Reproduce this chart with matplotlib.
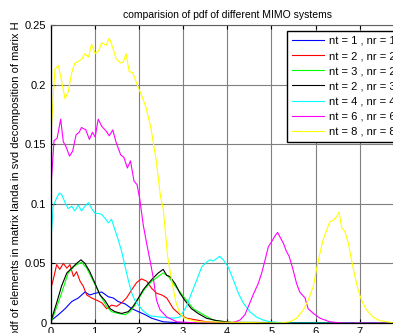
import matplotlib
matplotlib.use("Agg")
import matplotlib.pyplot as plt

# -----------------------------
# Data
# -----------------------------
labels = ["nt = 1 , nr = 1", "nt = 2 , nr = 2", "nt = 3 , nr = 2", "nt = 2 , nr = 3",
          "nt = 4 , nr = 4", "nt = 6 , nr = 6", "nt = 8 , nr = 8"]
colors = ["#0000ff", "#ff0000", "#00ff00", "#000000", "#00ffff", "#ff00ff", "#ffff00"]

x_11 = [0, 0.03, 0.18, 0.33, 0.48, 0.63, 0.78, 0.89, 1.01, 1.16, 1.31, 1.42, 1.53, 1.69,
        1.84, 1.99, 2.14, 2.29, 2.55, 3.0, 8.0]
y_11 = [0, 0.0025, 0.007, 0.012, 0.018, 0.021, 0.026, 0.0235, 0.025, 0.026, 0.022, 0.021,
        0.018, 0.016, 0.012, 0.0095, 0.007, 0.004, 0.001, 0, 0]

x_22 = [0, 0.06, 0.14, 0.21, 0.29, 0.37, 0.44, 0.52, 0.59, 0.67, 0.74, 0.82, 0.93, 1.05,
        1.16, 1.27, 1.38, 1.50, 1.61, 1.72, 1.84, 1.95, 2.06, 2.18, 2.29, 2.40, 2.52, 2.63,
        2.78, 2.93, 3.08, 3.31, 3.53, 4.0, 8.0]
y_22 = [0.028, 0.036, 0.049, 0.045, 0.050, 0.046, 0.049, 0.039, 0.043, 0.035, 0.031, 0.0235,
        0.021, 0.019, 0.017, 0.012, 0.015, 0.014, 0.017, 0.021, 0.028, 0.034, 0.037, 0.035,
        0.029, 0.025, 0.0235, 0.021, 0.012, 0.007, 0.004, 0.0025, 0.001, 0, 0]

x_32 = [0, 0.06, 0.25, 0.40, 0.55, 0.70, 0.82, 0.93, 1.05, 1.16, 1.27, 1.38, 1.53, 1.69,
        1.80, 1.91, 2.02, 2.14, 2.29, 2.44, 2.55, 2.67, 2.78, 2.93, 3.08, 3.23, 3.46, 3.68,
        4.0, 8.0]
y_32 = [0, 0.005, 0.025, 0.042, 0.048, 0.051, 0.046, 0.038, 0.029, 0.021, 0.014, 0.0095,
        0.008, 0.007, 0.0095, 0.015, 0.022, 0.029, 0.035, 0.039, 0.042, 0.039, 0.033, 0.026,
        0.019, 0.012, 0.007, 0.0025, 0.0005, 0]

x_23 = [0, 0.03, 0.14, 0.25, 0.37, 0.48, 0.59, 0.69, 0.78, 0.89, 1.01, 1.12, 1.23, 1.35,
        1.46, 1.61, 1.76, 1.87, 1.99, 2.10, 2.21, 2.33, 2.44, 2.55, 2.63, 2.70, 2.82, 2.93,
        3.04, 3.19, 3.34, 3.53, 3.76, 4.1, 8.0]
y_23 = [0, 0.004, 0.017, 0.031, 0.042, 0.046, 0.050, 0.053, 0.050, 0.043, 0.033, 0.0235,
        0.019, 0.012, 0.0095, 0.008, 0.0095, 0.014, 0.021, 0.028, 0.033, 0.038, 0.042, 0.045,
        0.040, 0.039, 0.033, 0.025, 0.019, 0.012, 0.008, 0.004, 0.002, 0.0005, 0]

x_44 = [0.01, 0.06, 0.14, 0.20, 0.25, 0.33, 0.40, 0.48, 0.55, 0.63, 0.70, 0.78, 0.86, 0.93,
        1.01, 1.08, 1.16, 1.23, 1.31, 1.38, 1.46, 1.53, 1.61, 1.69, 1.76, 1.84, 1.91, 1.99,
        2.10, 2.25, 2.48, 2.78, 2.93, 3.08, 3.19, 3.31, 3.42, 3.53, 3.61, 3.68, 3.76, 3.83,
        3.91, 4.02, 4.14, 4.25, 4.36, 4.51, 4.66, 4.81, 4.97, 5.3, 8.0]
y_44 = [0.068, 0.098, 0.105, 0.109, 0.108, 0.101, 0.096, 0.098, 0.094, 0.099, 0.094, 0.098,
        0.101, 0.096, 0.092, 0.092, 0.091, 0.088, 0.084, 0.087, 0.078, 0.070, 0.060, 0.047,
        0.036, 0.025, 0.019, 0.015, 0.010, 0.006, 0.005, 0.004, 0.005, 0.014, 0.025, 0.036,
        0.047, 0.051, 0.053, 0.052, 0.054, 0.056, 0.053, 0.047, 0.036, 0.025, 0.017, 0.0095,
        0.005, 0.0025, 0.001, 0, 0]

x_66 = [0.0, 0.08, 0.15, 0.23, 0.29, 0.35, 0.43, 0.50, 0.58, 0.65, 0.70, 0.80, 0.88, 0.95,
        1.01, 1.08, 1.16, 1.26, 1.33, 1.41, 1.48, 1.59, 1.66, 1.74, 1.81, 1.89, 1.96, 2.02,
        2.10, 2.18, 2.25, 2.33, 2.40, 2.48, 2.63, 2.86, 3.2, 4.0, 4.14, 4.29, 4.40, 4.48,
        4.59, 4.70, 4.78, 4.85, 4.93, 5.00, 5.08, 5.14, 5.21, 5.27, 5.34, 5.40, 5.48, 5.57,
        5.64, 5.76, 5.83, 5.95, 6.10, 6.32, 6.6, 8.0]
y_66 = [0.108, 0.153, 0.155, 0.171, 0.152, 0.148, 0.140, 0.144, 0.158, 0.160, 0.164, 0.162,
        0.154, 0.160, 0.156, 0.171, 0.165, 0.161, 0.157, 0.162, 0.152, 0.141, 0.139, 0.130,
        0.136, 0.119, 0.116, 0.104, 0.082, 0.066, 0.053, 0.037, 0.019, 0.011, 0.005, 0.001,
        0.0003, 0, 0.0005, 0.0025, 0.007, 0.014, 0.024, 0.033, 0.042, 0.052, 0.064, 0.068,
        0.073, 0.076, 0.071, 0.067, 0.060, 0.056, 0.046, 0.033, 0.026, 0.021, 0.012, 0.008,
        0.004, 0.001, 0, 0]

x_88 = [0.0, 0.10, 0.18, 0.33, 0.40, 0.48, 0.55, 0.70, 0.78, 0.86, 0.93, 1.01, 1.08, 1.16,
        1.26, 1.33, 1.41, 1.48, 1.59, 1.65, 1.71, 1.78, 1.86, 1.96, 2.06, 2.16, 2.27, 2.39,
        2.49, 2.55, 2.65, 2.74, 2.84, 2.93, 3.04, 3.3, 5.2, 5.42, 5.57, 5.72, 5.83, 5.95,
        6.02, 6.10, 6.17, 6.25, 6.32, 6.40, 6.47, 6.53, 6.59, 6.66, 6.74, 6.81, 6.89, 6.96,
        7.04, 7.15, 7.30, 7.45, 7.61, 7.8, 8.0]
y_88 = [0.151, 0.213, 0.216, 0.188, 0.194, 0.21, 0.218, 0.221, 0.226, 0.223, 0.234, 0.226,
        0.228, 0.235, 0.233, 0.239, 0.231, 0.222, 0.218, 0.219, 0.226, 0.211, 0.21, 0.200,
        0.191, 0.181, 0.164, 0.137, 0.106, 0.096, 0.056, 0.036, 0.017, 0.008, 0.004, 0.001,
        0, 0.001, 0.004, 0.011, 0.019, 0.031, 0.045, 0.059, 0.070, 0.078, 0.085, 0.086,
        0.089, 0.093, 0.080, 0.077, 0.067, 0.053, 0.039, 0.028, 0.019, 0.011, 0.005, 0.002,
        0.001, 0, 0]

xs = [x_11, x_22, x_32, x_23, x_44, x_66, x_88]
ys = [y_11, y_22, y_32, y_23, y_44, y_66, y_88]

x_ticks = [0, 1, 2, 3, 4, 5, 6, 7, 8]
y_ticks = [0, 0.05, 0.1, 0.15, 0.2, 0.25]
y_tick_labels = ["0", "0.05", "0.1", "0.15", "0.2", "0.25"]


def main():
    plt.rcParams["font.family"] = ["Liberation Sans", "DejaVu Sans"]
    fig = plt.figure(figsize=(3.93, 3.33), dpi=100)
    # axes run past the right edge of the picture, as in the reference
    ax = fig.add_axes([50.5 / 393, 10 / 333, 353.5 / 393, 298 / 333])

    for x, y, c, lab in zip(xs, ys, colors, labels):
        ax.plot(x, y, color=c, linewidth=0.8, label=lab)

    ax.set_xlim(0, 8)
    ax.set_ylim(0, 0.25)
    ax.set_xticks(x_ticks)
    ax.set_yticks(y_ticks)
    ax.set_yticklabels(y_tick_labels)
    ax.tick_params(direction="in", length=3, width=0.8, labelsize=8, top=True, pad=3)
    ax.grid(True, color="#7f7f7f", linewidth=0.8)
    for side in ["left", "bottom"]:
        ax.spines[side].set_linewidth(0.9)
    ax.spines["top"].set_color("#606060")

    ax.set_title("comparision of pdf of different MIMO systems", fontsize=7.5, pad=5)
    ax.set_ylabel("pdf of elements in matrix landa in svd decomposition of marix H", fontsize=8)
    ax.yaxis.set_label_coords(-0.083, 0.485)

    leg = ax.legend(loc="upper left", bbox_to_anchor=(0.669, 0.980), borderaxespad=0,
                    fontsize=8, fancybox=False, framealpha=1, edgecolor="black",
                    handlelength=2.9, handletextpad=0.4, labelspacing=0.46, borderpad=0.45)
    leg.get_frame().set_linewidth(1.0)

    fig.savefig("out.png", dpi=100)
    plt.close(fig)


if __name__ == "__main__":
    main()
